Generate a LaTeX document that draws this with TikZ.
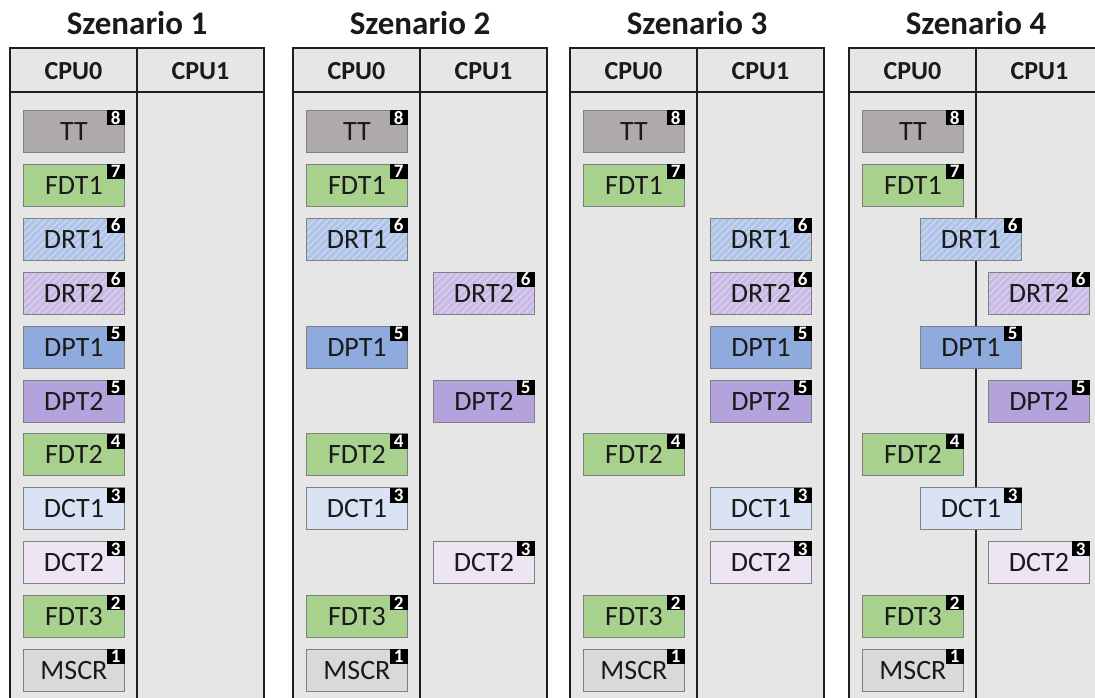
\documentclass[tikz,border=0pt]{standalone}
\usepackage{fontspec}
\setmainfont{Carlito}
\usetikzlibrary{patterns.meta}
\definecolor{colbg}{HTML}{E6E6E6}
\definecolor{frameC}{HTML}{1E1E1E}
\definecolor{ttC}{HTML}{AEAAAA}
\definecolor{fdtC}{HTML}{A9D18E}
\definecolor{dpt1C}{HTML}{8FAADC}
\definecolor{drt1C}{HTML}{AFC4E8}
\definecolor{drt1S}{HTML}{C9D7F0}
\definecolor{dct1C}{HTML}{DAE3F3}
\definecolor{dpt2C}{HTML}{B3A2DC}
\definecolor{drt2C}{HTML}{C8BAE4}
\definecolor{drt2S}{HTML}{DAD0EC}
\definecolor{dct2C}{HTML}{EDE5F4}
\definecolor{mscrC}{HTML}{D9D9D9}
\definecolor{boxline}{HTML}{808080}
\definecolor{txtC}{HTML}{1A1A1A}
\newcommand{\tsk}[6]{%
  \node[task,#4] (#1) at (#2,{110+53.9*#3}) {#5};
  \node[badge] (#1b) at (#1.north east) {#6};
}
\begin{document}
\begin{tikzpicture}[x=1pt,y=-1pt,
  frame/.style={draw=frameC,line width=2.4pt},
  title/.style={font=\fontsize{33}{38}\selectfont\bfseries,text=txtC,anchor=base,inner sep=0},
  head/.style={font=\fontsize{26}{30}\selectfont\bfseries,text=txtC,anchor=base,inner sep=0},
  task/.style={anchor=north west,minimum width=101pt,minimum height=42pt,inner sep=0,
    draw=boxline,line width=0.9pt,text=txtC,font=\fontsize{28}{32}\selectfont},
  badge/.style={anchor=north east,fill=black,text=white,minimum width=18pt,minimum height=15pt,
    inner sep=0,font=\fontsize{19}{20}\selectfont\bfseries},
  tt/.style={fill=ttC},
  fdt/.style={fill=fdtC},
  dptone/.style={fill=dpt1C},
  dpttwo/.style={fill=dpt2C},
  dctone/.style={fill=dct1C},
  dcttwo/.style={fill=dct2C},
  mscr/.style={fill=mscrC},
  drtone/.style={fill=drt1C,postaction={pattern={Lines[angle=45,distance=5pt,line width=1.4pt]},pattern color=drt1S},
    postaction={draw=boxline,line width=0.9pt}},
  drttwo/.style={fill=drt2C,postaction={pattern={Lines[angle=45,distance=5pt,line width=1.4pt]},pattern color=drt2S},
    postaction={draw=boxline,line width=0.9pt}}
]
\useasboundingbox (0,0) rectangle (1095,697);
\clip (0,0) rectangle (1095,697);
\fill[white] (0,0) rectangle (1095,697);
% tables
\foreach \L/\n in {10/1,293/2,570/3,849/4}{
  \fill[colbg] (\L,48) rectangle (\L+254,710);
  \draw[frame] (\L,710) -- (\L,48) -- (\L+254,48) -- (\L+254,710);
  \draw[frame] (\L,92) -- (\L+254,92);
  \draw[frame] (\L+127,48) -- (\L+127,710);
  \node[title] (title\n) at (\L+127,34) {Szenario \n};
  \node[head] (cpuA\n) at (\L+63.5,79) {CPU0};
  \node[head] (cpuB\n) at (\L+190.5,79) {CPU1};
}
% Szenario 1
\tsk{aTT}{23}{0}{tt}{TT}{8}
\tsk{aFDTa}{23}{1}{fdt}{FDT1}{7}
\tsk{aDRTa}{23}{2}{drtone}{DRT1}{6}
\tsk{aDRTb}{23}{3}{drttwo}{DRT2}{6}
\tsk{aDPTa}{23}{4}{dptone}{DPT1}{5}
\tsk{aDPTb}{23}{5}{dpttwo}{DPT2}{5}
\tsk{aFDTb}{23}{6}{fdt}{FDT2}{4}
\tsk{aDCTa}{23}{7}{dctone}{DCT1}{3}
\tsk{aDCTb}{23}{8}{dcttwo}{DCT2}{3}
\tsk{aFDTc}{23}{9}{fdt}{FDT3}{2}
\tsk{aMSCR}{23}{10}{mscr}{MSCR}{1}
% Szenario 2
\tsk{bTT}{306}{0}{tt}{TT}{8}
\tsk{bFDTa}{306}{1}{fdt}{FDT1}{7}
\tsk{bDRTa}{306}{2}{drtone}{DRT1}{6}
\tsk{bDRTb}{433}{3}{drttwo}{DRT2}{6}
\tsk{bDPTa}{306}{4}{dptone}{DPT1}{5}
\tsk{bDPTb}{433}{5}{dpttwo}{DPT2}{5}
\tsk{bFDTb}{306}{6}{fdt}{FDT2}{4}
\tsk{bDCTa}{306}{7}{dctone}{DCT1}{3}
\tsk{bDCTb}{433}{8}{dcttwo}{DCT2}{3}
\tsk{bFDTc}{306}{9}{fdt}{FDT3}{2}
\tsk{bMSCR}{306}{10}{mscr}{MSCR}{1}
% Szenario 3
\tsk{cTT}{583}{0}{tt}{TT}{8}
\tsk{cFDTa}{583}{1}{fdt}{FDT1}{7}
\tsk{cDRTa}{710}{2}{drtone}{DRT1}{6}
\tsk{cDRTb}{710}{3}{drttwo}{DRT2}{6}
\tsk{cDPTa}{710}{4}{dptone}{DPT1}{5}
\tsk{cDPTb}{710}{5}{dpttwo}{DPT2}{5}
\tsk{cFDTb}{583}{6}{fdt}{FDT2}{4}
\tsk{cDCTa}{710}{7}{dctone}{DCT1}{3}
\tsk{cDCTb}{710}{8}{dcttwo}{DCT2}{3}
\tsk{cFDTc}{583}{9}{fdt}{FDT3}{2}
\tsk{cMSCR}{583}{10}{mscr}{MSCR}{1}
% Szenario 4
\tsk{dTT}{862}{0}{tt}{TT}{8}
\tsk{dFDTa}{862}{1}{fdt}{FDT1}{7}
\tsk{dDRTa}{920}{2}{drtone}{DRT1}{6}
\tsk{dDRTb}{988}{3}{drttwo}{DRT2}{6}
\tsk{dDPTa}{920}{4}{dptone}{DPT1}{5}
\tsk{dDPTb}{988}{5}{dpttwo}{DPT2}{5}
\tsk{dFDTb}{862}{6}{fdt}{FDT2}{4}
\tsk{dDCTa}{920}{7}{dctone}{DCT1}{3}
\tsk{dDCTb}{988}{8}{dcttwo}{DCT2}{3}
\tsk{dFDTc}{862}{9}{fdt}{FDT3}{2}
\tsk{dMSCR}{862}{10}{mscr}{MSCR}{1}
\end{tikzpicture}
\end{document}
